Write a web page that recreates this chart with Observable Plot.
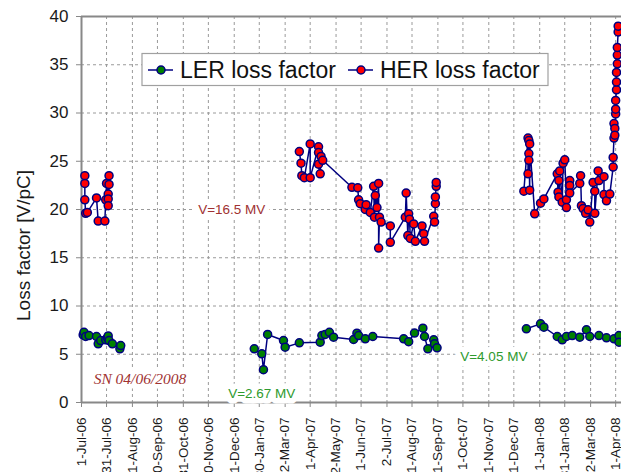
<!DOCTYPE html>
<html>
<head>
<meta charset="utf-8">
<script src="https://cdn.jsdelivr.net/npm/d3@7"></script>
<script src="https://cdn.jsdelivr.net/npm/@observablehq/plot@0.6"></script>
<style>
  html, body { margin: 0; padding: 0; background: #fff; }
  #chart { position: relative; width: 621px; height: 472px; overflow: hidden; }
</style>
</head>
<body>
<div id="chart"></div>
<script>
// ---- Tick marks on the date axis ----
const tickDates = ["2006-07-01","2006-07-31","2006-08-31","2006-09-30","2006-10-31","2006-11-30",
  "2006-12-31","2007-01-30","2007-03-02","2007-04-01","2007-05-02","2007-06-01","2007-07-02",
  "2007-08-01","2007-09-01","2007-10-01","2007-11-01","2007-12-01","2008-01-01","2008-01-31",
  "2008-03-02","2008-04-01"];
const tickLabels = ["1-Jul-06","31-Jul-06","31-Aug-06","30-Sep-06","31-Oct-06","30-Nov-06",
  "31-Dec-06","30-Jan-07","2-Mar-07","1-Apr-07","2-May-07","1-Jun-07","2-Jul-07",
  "1-Aug-07","1-Sep-07","1-Oct-07","1-Nov-07","1-Dec-07","1-Jan-08","31-Jan-08",
  "2-Mar-08","1-Apr-08"];
const yTicks = [0, 5, 10, 15, 20, 25, 30, 35, 40];

// ---- LER loss factor (null = gap in the line) ----
const lerDates = ["2006-07-03","2006-07-04","2006-07-06","2006-07-10","2006-07-19","2006-07-21",
  "2006-07-24","2006-07-30","2006-08-01","2006-08-02","2006-08-03","2006-08-07","2006-08-16","2006-08-17",
  "2006-10-15",
  "2007-01-24","2007-02-02","2007-02-04","2007-02-09","2007-02-28","2007-03-02","2007-03-19",
  "2007-04-13","2007-04-15","2007-04-19","2007-04-24","2007-04-29","2007-05-23","2007-05-27",
  "2007-05-29","2007-06-06","2007-06-15","2007-07-22","2007-07-28","2007-08-04","2007-08-14",
  "2007-08-16","2007-08-20","2007-08-27","2007-08-28","2007-08-31",
  "2007-10-15",
  "2007-12-16","2008-01-02","2008-01-06","2008-01-22","2008-01-28","2008-02-02","2008-02-09",
  "2008-02-18","2008-02-26","2008-03-01","2008-03-12","2008-03-21","2008-03-30","2008-04-05","2008-04-05"];
const lerValues = [7.0,7.28,6.84,6.94,6.84,6.08,
  6.42,6.5,6.7,6.9,6.42,6.08,5.56,5.9,
  null,
  5.56,5.05,3.4,7.05,6.42,5.73,6.18,
  6.25,6.94,7.05,7.28,6.77,6.53,7.18,
  6.94,6.6,6.84,6.6,6.3,7.2,7.7,
  6.84,5.56,6.5,6.08,5.67,
  null,
  7.64,8.15,7.8,6.84,6.5,6.84,6.94,
  6.77,7.53,6.84,6.94,6.7,6.6,6.94,6.25];

// ---- HER loss factor (null = gap in the line) ----
const herDates = ["2006-07-05","2006-07-05","2006-07-05","2006-07-06","2006-07-08","2006-07-19",
  "2006-07-21","2006-07-29","2006-07-30","2006-07-31","2006-08-02","2006-08-02","2006-08-02",
  "2006-08-03","2006-08-03",
  "2006-11-01",
  "2007-03-19","2007-03-21","2007-03-22","2007-03-25","2007-04-01","2007-04-01","2007-04-11",
  "2007-04-11","2007-04-11","2007-04-13","2007-04-14","2007-04-16","2007-05-21","2007-05-28",
  "2007-05-29","2007-05-31","2007-06-06","2007-06-07","2007-06-12","2007-06-16","2007-06-17",
  "2007-06-18","2007-06-20","2007-06-22","2007-06-22","2007-06-23","2007-06-25","2007-07-06",
  "2007-07-06","2007-07-24","2007-07-25","2007-07-27","2007-07-28","2007-07-29","2007-07-30",
  "2007-08-03","2007-08-05","2007-08-13","2007-08-15","2007-08-16","2007-08-27","2007-08-28",
  "2007-08-29","2007-08-29","2007-08-30","2007-08-30",
  "2007-10-15",
  "2007-12-13","2007-12-18","2007-12-18","2007-12-19","2007-12-19","2007-12-19","2007-12-20",
  "2007-12-20","2007-12-26","2008-01-02","2008-01-06","2008-01-22","2008-01-23","2008-01-24",
  "2008-01-24","2008-01-25","2008-01-28","2008-01-29","2008-01-31","2008-02-02","2008-02-02",
  "2008-02-06","2008-02-06","2008-02-06","2008-02-18","2008-02-19","2008-02-20","2008-02-22",
  "2008-02-25","2008-02-28","2008-03-01","2008-03-05","2008-03-07","2008-03-07","2008-03-11",
  "2008-03-12","2008-03-18","2008-03-18","2008-03-21","2008-03-25","2008-03-29","2008-03-29",
  "2008-03-30","2008-03-30","2008-03-31","2008-03-31","2008-04-01","2008-04-01","2008-04-01",
  "2008-04-02","2008-04-02","2008-04-02","2008-04-03","2008-04-03","2008-04-03","2008-04-04","2008-04-04"];
const herValues = [23.5,22.7,21.0,19.6,19.7,21.2,
  18.8,18.8,21.0,22.7,21.6,21.1,20.4,
  22.6,23.5,
  null,
  26.0,24.8,23.5,23.3,26.8,23.3,26.5,
  25.9,24.7,23.7,25.5,25.1,22.3,22.25,
  21.0,20.6,20.0,20.5,19.7,22.4,19.2,
  21.45,20.2,22.7,16.0,19.2,18.7,18.3,
  16.6,19.2,21.7,17.3,19.55,19.0,17.0,
  18.5,16.7,18.3,17.5,16.7,19.3,18.7,
  20.6,21.3,22.4,22.8,
  null,
  21.9,27.4,23.7,25.8,25.1,27.15,22.0,
  26.8,19.55,20.65,21.1,23.7,21.8,23.0,
  21.3,24.0,20.75,24.8,25.15,21.0,20.2,
  23.0,22.5,21.7,22.7,23.5,20.4,20.1,
  19.6,19.97,18.7,22.8,21.9,19.6,24.0,
  23.0,23.4,21.55,20.9,21.6,24.4,25.4,
  27.4,28.9,28.4,27.7,29.9,30.4,31.3,
  32.4,33.2,34.2,35.1,36.0,36.8,38.4,39.0];

// ---- Annotations ----
const noteTexts  = ["V=16.5 MV", "V=2.67 MV", "V=4.05 MV", "SN 04/06/2008"];
const noteDates  = ["2006-12-28", "2007-02-02", "2007-11-07", "2006-09-09"];
const noteValues = [20, 0.9, 4.7, 2.45];
const noteColors = ["#a03232", "#2e9a2e", "#2e9a2e", "#a03232"];

const seriesNames = ["LER loss factor", "HER loss factor"];
const seriesFills = ["#008000", "#ff0000"];

// ---- Build tables ----
const parse = s => new Date(s + "T00:00:00Z");
const ler = lerDates.map((d, i) => ({date: parse(d), value: lerValues[i]}));
const her = herDates.map((d, i) => ({date: parse(d), value: herValues[i]}));
const ticks = tickDates.map(parse);
const labelOf = new Map(ticks.map((t, i) => [+t, tickLabels[i]]));
const notes = noteTexts.map((t, i) => ({text: t, date: parse(noteDates[i]), value: noteValues[i], color: noteColors[i]}));
const sansNotes = notes.slice(0, 3);
const serifNote = notes.slice(3);

const xDomain = [parse("2006-07-01"), parse("2008-04-08")];
const font = "'Liberation Sans', Arial, sans-serif";
const lineColor = "#000080";

const chart = Plot.plot({
  width: 621,
  height: 472,
  marginTop: 16,
  marginBottom: 70,
  marginLeft: 81,
  marginRight: 0,
  style: {fontFamily: font, background: "white", color: "#1a1a1a", overflow: "hidden"},
  x: {type: "utc", domain: xDomain},
  y: {domain: [0, 40]},
  marks: [
    Plot.gridX({ticks: ticks, stroke: "#9a9a9a", strokeOpacity: 1, strokeDasharray: "3,3"}),
    Plot.gridY({ticks: yTicks.slice(1, -1), stroke: "#9a9a9a", strokeOpacity: 1, strokeDasharray: "3,3"}),
    Plot.ruleY([0, 40], {stroke: "#888", strokeWidth: 2}),
    Plot.ruleX([xDomain[0]], {stroke: "#888", strokeWidth: 2}),
    Plot.axisX({ticks: ticks, tickFormat: d => labelOf.get(+d), tickRotate: -90, tickSize: 5,
      tickPadding: 10, fontSize: 13.5, stroke: "#888", label: null}),
    Plot.axisY({ticks: yTicks, tickSize: 5, tickPadding: 8, fontSize: 17, stroke: "#888", label: null}),
    Plot.text(["Loss factor [V/pC]"], {frameAnchor: "left", rotate: -90, dx: -58, dy: 36, textAnchor: "middle",
      fontSize: 19, fill: "#1a1a1a"}),
    Plot.line(ler, {x: "date", y: "value", stroke: lineColor, strokeWidth: 1.5}),
    Plot.dot(ler, {x: "date", y: "value", r: 4, fill: seriesFills[0], stroke: lineColor, strokeWidth: 1.5}),
    Plot.line(her, {x: "date", y: "value", stroke: lineColor, strokeWidth: 1.5}),
    Plot.dot(her, {x: "date", y: "value", r: 4, fill: seriesFills[1], stroke: lineColor, strokeWidth: 1.5}),
    Plot.text(sansNotes, {x: "date", y: "value", text: "text", fill: "color", fontSize: 13.5,
      stroke: "white", strokeWidth: 11}),
    Plot.text(serifNote, {x: "date", y: "value", text: "text", fill: "color", fontSize: 15.5,
      fontStyle: "italic", fontFamily: "'Liberation Serif', 'Times New Roman', serif",
      stroke: "white", strokeWidth: 9})
  ]
});

// ---- Legend box drawn inside the plot area ----
const svg = d3.select(chart);
const lg = svg.append("g").attr("font-family", font).attr("text-anchor", "start");
lg.append("rect").attr("x", 142).attr("y", 53.5).attr("width", 406).attr("height", 32)
  .attr("fill", "white").attr("stroke", "#a0a0a0").attr("stroke-width", 1.2);
const itemX = [148, 348];
seriesNames.forEach((name, i) => {
  const x0 = itemX[i];
  lg.append("line").attr("x1", x0).attr("x2", x0 + 25).attr("y1", 70).attr("y2", 70)
    .attr("stroke", lineColor).attr("stroke-width", 1.5);
  lg.append("circle").attr("cx", x0 + 13).attr("cy", 70).attr("r", 4)
    .attr("fill", seriesFills[i]).attr("stroke", lineColor).attr("stroke-width", 1.5);
  lg.append("text").attr("x", x0 + 32).attr("y", 78.3).attr("font-size", 23)
    .attr("text-anchor", "start").attr("fill", "#111").text(name);
});

document.getElementById("chart").appendChild(chart);
</script>
</body>
</html>
